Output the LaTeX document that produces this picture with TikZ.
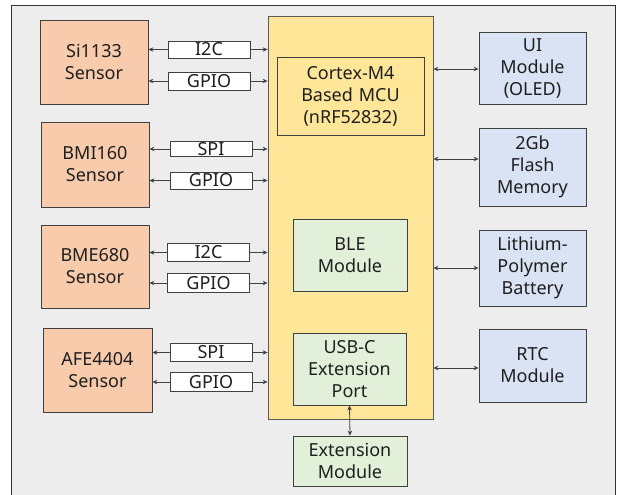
\documentclass[tikz,border=0pt]{standalone}
\usepackage{fontspec}
\setmainfont{Noto Sans}
\usetikzlibrary{arrows.meta}
\definecolor{bgc}{HTML}{EDEDED}
\definecolor{sens}{HTML}{F8CBAD}
\definecolor{mcuc}{HTML}{FFE699}
\definecolor{grn}{HTML}{E2F0D9}
\definecolor{blu}{HTML}{DAE3F3}
\definecolor{edge}{HTML}{404040}
\tikzset{
  box/.style={draw=edge, line width=0.8pt, align=center, inner sep=0pt,
    font={\fontsize{18}{22}\selectfont}, text=black!88},
  sensor/.style={box, fill=sens},
  lbl/.style={box, fill=white, minimum width=82pt},
  grnbox/.style={box, fill=grn},
  blubox/.style={box, fill=blu, minimum width=107pt},
  conn/.style={draw=edge, line width=0.8pt},
  tip/.style={-{Stealth[length=5pt,width=4.5pt]}},
  both/.style={{Stealth[length=5pt,width=4.5pt]}-{Stealth[length=5pt,width=4.5pt]}},
}
\begin{document}
\begin{tikzpicture}[x=1pt,y=-1pt]
\useasboundingbox (0,0) rectangle (625,495);
\fill[white] (0,0) rectangle (625,495);
\draw[fill=bgc, draw=black!80, line width=0.8pt] (11,5) rectangle (615,520);
% MCU
\node[box, fill=mcuc, draw=gray!70!black, minimum width=165pt, minimum height=403pt] (mcu) at (350.5,217.5) {};
\node[box, fill=mcuc, minimum width=147pt, minimum height=78pt] (cortex) at (350.5,96) {Cortex-M4\\Based\,\,MCU\\(nRF52832)};
\node[grnbox, minimum width=114pt, minimum height=72pt] (ble) at (350,255) {BLE\\Module};
\node[grnbox, minimum width=113pt, minimum height=72pt] (usb) at (349.5,369) {USB-C\\Extension\\Port};
\node[grnbox, minimum width=114pt, minimum height=50pt] (ext) at (350,461) {Extension\\Module};
% sensors
\node[sensor, minimum width=108pt, minimum height=84pt] (si) at (94,62) {Si1133\\Sensor};
\node[sensor, minimum width=108pt, minimum height=85pt] (bmi) at (95,164.5) {BMI160\\Sensor};
\node[sensor, minimum width=108pt, minimum height=83pt] (bme) at (95,266.5) {BME680\\Sensor};
\node[sensor, minimum width=109pt, minimum height=84pt] (afe) at (97.5,370) {AFE4404\\Sensor};
% labels
\node[lbl, minimum height=17pt] (l1) at (209,49.5) {I2C};
\node[lbl, minimum height=18pt] (l2) at (209,81) {GPIO};
\node[lbl, minimum height=15pt] (l3) at (211,149) {SPI};
\node[lbl, minimum height=17pt] (l4) at (211,180.5) {GPIO};
\node[lbl, minimum height=18pt] (l5) at (208.5,252.5) {I2C};
\node[lbl, minimum height=19pt] (l6) at (208.5,283) {GPIO};
\node[lbl, minimum height=18pt] (l7) at (211,352.5) {SPI};
\node[lbl, minimum height=19pt] (l8) at (211,382) {GPIO};
% right modules
\node[blubox, minimum height=72pt] (ui) at (532.5,68) {UI\\Module\\(OLED)};
\node[blubox, minimum height=78pt] (flash) at (532.5,167) {2Gb\\Flash\\Memory};
\node[blubox, minimum height=76pt] (bat) at (532.5,268) {Lithium-\\Polymer\\Battery};
\node[blubox, minimum height=73pt] (rtc) at (532.5,365.5) {RTC\\Module};
% left connectors
\foreach \l/\s in {l1/si,l2/si,l3/bmi,l4/bmi,l5/bme,l6/bme,l7/afe,l8/afe}{
  \draw[conn, tip] (\l.west) -- (\l.west -| \s.east);
  \draw[conn, tip] (\l.east) -- (\l.east -| mcu.west);
}
% right connectors
\draw[conn, both] ([yshift=-1pt]ui.west -| mcu.east) -- ([yshift=-1pt]ui.west);
\draw[conn, both] ([yshift=8pt]flash.west -| mcu.east) -- ([yshift=8pt]flash.west);
\draw[conn, both] (bat.west -| mcu.east) -- (bat.west);
\draw[conn, both] ([yshift=-2.5pt]rtc.west -| mcu.east) -- ([yshift=-2.5pt]rtc.west);
% vertical
\draw[conn, both] (usb.south) -- (ext.north);
\end{tikzpicture}
\end{document}
